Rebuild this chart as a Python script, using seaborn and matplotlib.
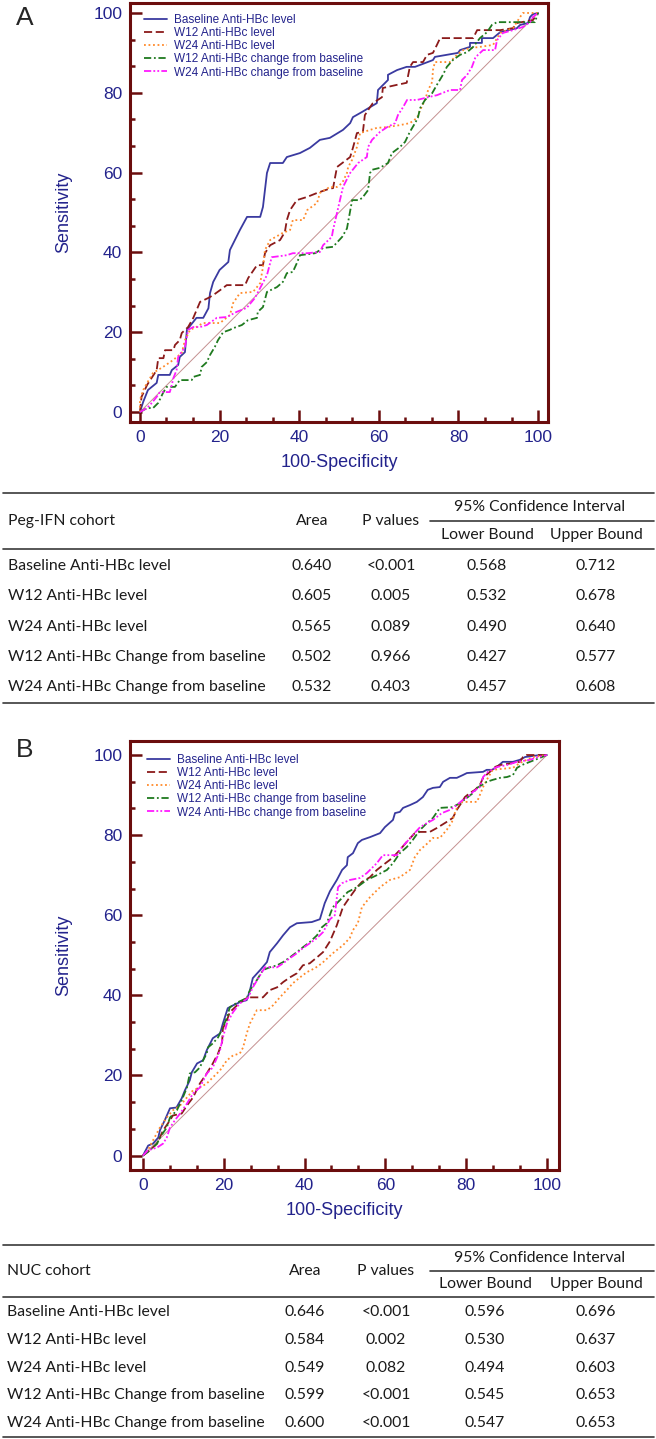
import matplotlib
matplotlib.use("Agg")
import matplotlib.pyplot as plt
import seaborn as sns
from matplotlib.ticker import MultipleLocator

# ---- curve labels ----
curve_names = ["Baseline Anti-HBc level", "W12 Anti-HBc level", "W24 Anti-HBc level",
               "W12 Anti-HBc change from baseline", "W24 Anti-HBc change from baseline"]

# ---- panel A (Peg-IFN) ROC points ----
a_base_x = [0, 0.8, 2, 4.2, 4.6, 7.5, 8, 9.6, 10, 11.3, 11.8, 14.2, 15.9, 17.2, 17.6, 18.4, 20, 22.2, 22.6, 25.1,
            26.9, 30.2, 30.9, 31.9, 32.7, 35.9, 36.9, 40.2, 42.7, 45.2, 47.7, 51, 52.8, 53.5, 55.8, 59.5, 59.8, 62.3,
            62.3, 64.6, 67, 69.1, 73.6, 74.1, 79.9, 80.4, 82.9, 82.9, 85.9, 85.9, 88.7, 90.5, 94.7, 95.5, 97.5, 98,
            98.7, 100]
a_base_y = [0, 2.5, 5.5, 7.3, 9.3, 9.3, 10.5, 11.8, 13.8, 15, 20.6, 23.6, 23.6, 26, 29.8, 32.6, 35.6, 37.6, 40.6, 45.6,
            48.9, 48.9, 51.4, 59.9, 62.4, 62.4, 63.9, 64.9, 66.2, 68.2, 68.7, 70.7, 72.4, 73.9, 75.2, 77.4, 80.7, 83.2,
            84.5, 85.7, 86.5, 86.5, 88.2, 89, 90, 90.7, 91.5, 92.5, 92.5, 93.7, 93.7, 95.2, 96.2, 97, 97.5, 99,
            99.7, 100]

a_w12_x = [0, 0.4, 1.8, 4.2, 4.6, 5.9, 6.3, 8.4, 8.8, 10, 10.5, 12.1, 13.4, 15.1, 17.2, 18.4, 20.9, 21.8, 26.4, 27.2,
           29.4, 30.9, 31.4, 32.7, 35.2, 36.4, 36.9, 37.7, 39.4, 42, 44.5, 47.7, 48.5, 49.5, 52.8, 53.5, 54.5, 56, 56.5,
           57.8, 58.5, 60.8, 61, 64.6, 67, 67.8, 68.6, 71.1, 72.1, 73.6, 74.6, 75.4, 83.7, 84.7, 90.5, 93.7, 94.7, 98.7,
           100]
a_w12_y = [0, 3.8, 6.8, 10.5, 13.5, 13.5, 15.5, 15.5, 16.8, 18, 19.8, 21.3, 23.6, 27.6, 28.6, 29.3, 31.1, 31.8, 31.8,
           33.6, 36.8, 36.8, 39.8, 41.8, 43.1, 45.1, 48.1, 50.6, 53.1, 53.9, 54.9, 56, 56.1, 61.4, 63.9, 66.2, 69.9, 70.2,
           74.4, 76.4, 77.4, 78.9, 81.2, 82, 82.5, 86.5, 87.7, 87.7, 89.5, 90, 92, 93.7, 93.7, 95.7, 95.7, 96.2, 97.5,
           98.2, 100]

a_w24_x = [0, 0, 0.8, 1.8, 3.3, 5.8, 8.3, 10.5, 11.3, 12.6, 14.2, 15.8, 20.1, 22.6, 23.4, 25.1, 28.4, 30.2, 30.9, 31.4,
           32.7, 35.9, 37.7, 38.4, 41, 42, 44.5, 45.2, 47.7, 49.5, 50.8, 52, 52.3, 53.3, 54.5, 55.3, 57.8, 59.5, 62.1,
           65.3, 67.8, 69.6, 70.4, 71.6, 72.4, 73.4, 73.6, 74.1, 77.9, 79.6, 81.2, 82.9, 85.4, 88.7, 90.5, 93.7, 95.5,
           96.2, 100]
a_w24_y = [0, 3, 5.5, 7.3, 9.8, 11.3, 13, 14.8, 18, 20.6, 21.3, 22.3, 22.3, 24.3, 27.3, 29.8, 30.1, 32.3, 36.3, 40.6,
           43.1, 44.9, 45.6, 48.1, 48.1, 50.6, 52.4, 54.9, 56.4, 56.4, 57.4, 59.9, 61.4, 63.2, 66.4, 69.9, 70.7, 71.2,
           71.4, 71.9, 72.4, 73.7, 75.7, 78.2, 80.7, 82.7, 85.7, 87.7, 87.7, 89.5, 90.7, 91.2, 91.5, 92, 95, 96.2, 99,
           100, 100]

a_c12_x = [0, 1.8, 3.3, 4.6, 5.8, 6.7, 8.8, 10, 13, 13.4, 15.1, 15.5, 16.8, 17.6, 18.8, 19.6, 20.9, 22.6, 23.4, 25.6,
           27.1, 29.4, 29.6, 30.9, 31.9, 34.4, 35.9, 36.9, 38.4, 39.4, 40.2, 44, 46, 48.5, 50.8, 52, 53.3, 54.8, 55.8,
           57.3, 57.8, 58.3, 60.3, 62.3, 63.3, 65.3, 66.6, 67.8, 69.1, 69.8, 70.4, 71.6, 73.4, 74.6, 76.1, 77.1, 78.6,
           80.4, 82.2, 83.7, 85.4, 87.2, 88.4, 89.7, 99.2, 100]
a_c12_y = [0, 1, 1, 2.3, 4.8, 6.3, 6.3, 8, 8, 8.8, 9.3, 11.3, 12.5, 14.3, 16.3, 18, 20, 20.6, 21, 21.8,
           23, 23.6, 25.1, 26.3, 30.1, 31.3, 32.6, 34.8, 35.1, 37.3, 39.3, 39.8, 41.1, 41.4, 43.9, 46, 53.1, 53.1, 53.6,
           55.6, 59.9, 60.7, 61.2, 62.4, 64.9, 66.4, 67.7, 70.2, 72.4, 73.7, 76.2, 78.2, 79.9, 82, 84.5, 86.5, 88.2,
           89.5, 90.2, 91.5, 93.7, 95.2, 97, 97.7, 97.7, 100]

a_c24_x = [0, 1.8, 3, 4.2, 5, 7.5, 8, 8.4, 9.2, 9.6, 11.3, 12.1, 13.4, 15.1, 16.8, 19.3, 21.8, 24.3, 26.8, 28.9, 30.2,
           31.9, 33.1, 36.9, 38.4, 42, 45.2, 46, 48.2, 48.5, 49.5, 51, 52.8, 54.8, 57, 57.3, 58.3, 60.3, 62.1, 64.1,
           64.8, 66.1, 67.1, 69.6, 72.4, 74.6, 77.9, 80.4, 80.9, 82.2, 83.4, 84.2, 84.9, 86.2, 89.2, 89.7, 91.2, 93.7,
           96.2, 98, 98.7, 100]
a_c24_y = [0, 1, 2.3, 3.8, 5, 5, 6.8, 8.5, 10.5, 13.8, 16.3, 20.6, 21.3, 21.3, 21.8, 23.6, 23.8, 25.1, 26.1, 28.6, 31.1,
           34.3, 38.8, 39.3, 39.8, 39.8, 40.1, 41.8, 43.9, 45.6, 49.9, 56.4, 59.9, 62.4, 63.9, 66.4, 68.2, 70.2, 71.4,
           72.4, 74.4, 76.4, 78.2, 78.2, 78.9, 79.4, 80.7, 80.7, 83.2, 84.5, 86.5, 88.7, 89.5, 90.7, 90.7, 93.2, 95,
           95.7, 96.5, 97.7, 99, 100]

# ---- panel B (NUC) ROC points ----
b_base_x = [0, 1.3, 2.5, 3.8, 4.2, 5.4, 6.7, 8.3, 9.6, 10.4, 11.6, 12.1, 13.4, 14.9, 15.8, 17.3, 19.1, 19.8, 21, 22.3,
            24, 25.7, 26.5, 27.2, 29, 30.7, 31.4, 33.2, 34.7, 36.4, 38.1, 41.8, 43.8, 45, 46.3, 48, 49.3, 50.5, 50.7,
            52, 53.2, 54.2, 56.2, 58.7, 59.9, 61.9, 62.4, 63.6, 64.4, 66.1, 67.8, 69.3, 70.5, 71.8, 73.5, 74.3, 76,
            77.7, 79.2, 80.2, 84.2, 85.1, 86.4, 87.6, 89.1, 91.6, 93.3, 94.6, 98.3, 100]
b_base_y = [0, 2.5, 3, 4.5, 6.3, 8.8, 11.8, 12, 14.3, 16.3, 18.8, 20.8, 23, 23.8, 26.3, 29.3, 30.5, 33, 36.8, 37.5,
            38.3, 38.8, 41.3, 44.3, 46.3, 48.3, 50.8, 53, 55, 57, 58, 58.3, 59, 63, 66, 68.8, 71.3, 72.5, 74.5,
            75.5, 78, 78.8, 79.5, 80.5, 82, 83.8, 85.5, 85.8, 86.8, 87.5, 88.3, 89.5, 91.3, 91.8, 92, 93.3, 94.3,
            94.3, 95, 95.5, 95.8, 96.3, 96.3, 97, 98.3, 98.3, 98.8, 99.5, 100, 100]

b_w12_x = [0, 1.7, 3.5, 5, 6.7, 7.4, 9.6, 10.9, 12.4, 14.1, 15.8, 17.3, 18.6, 19.6, 19.8, 20.8, 21.5, 23.3, 24.8, 26,
           29.7, 31.4, 33.2, 34.7, 36.4, 38.1, 39.6, 41.3, 43.1, 44.6, 46.3, 48, 49.5, 51.2, 53, 54.2, 56.2, 57.9, 59.4,
           61.1, 62.4, 63.6, 65.3, 67.3, 68.6, 71, 72.8, 75.2, 76.7, 77.7, 79, 79.7, 80.9, 82.2, 83.4, 84.2, 85.9,
           87.1, 88.4, 91.6, 93.3, 94.1, 95, 100]
b_w12_y = [0, 1.3, 3, 6.3, 8.8, 10, 10.5, 12.5, 14.5, 18, 20.5, 23, 25.5, 28.3, 31.8, 33.8, 35.8, 37.5, 38.8, 39.5,
           39.5, 41.3, 42, 43.3, 44.5, 45.5, 47.5, 48, 49.5, 50.8, 53.5, 57.5, 62, 64.5, 67, 68.3, 69.5, 71.3, 72.5,
           73.8, 75, 76.3, 78.3, 80.5, 80.8, 80.8, 81.8, 83.3, 84.3, 86.3, 88.3, 89.5, 90.5, 91.3, 92.5, 94.3, 95.8,
           97, 97.5, 98, 98.3, 99.5, 100, 100]

b_w24_x = [0, 1.2, 2.5, 4.2, 5.9, 7.4, 9.2, 10.9, 12.4, 14.1, 15.8, 17.3, 19.1, 20.8, 22.3, 24, 24.8, 25.7, 26.5, 28.2,
           30.7, 32.2, 33.9, 35.6, 37.1, 38.9, 40.6, 42.6, 44.3, 47, 49.5, 51.2, 52, 53.2, 54.2, 56.2, 58.7, 61.1,
           63.6, 66.1, 67.3, 68.6, 70.5, 71.8, 73.5, 75.2, 76.5, 77.2, 78, 79.2, 82.7, 83.4, 84.2, 85.4, 86.6, 88.4,
           91.6, 93.3, 95, 96.5, 100]
b_w24_y = [0, 1.3, 3.8, 7, 9.5, 11.3, 12.5, 14.5, 16.3, 17, 18, 19.5, 21.3, 23.8, 25, 25.5, 27, 30.5, 33, 36.3,
           36.3, 37.5, 39.5, 41.3, 43, 44.5, 45.8, 46.8, 48, 50.5, 52.5, 54.3, 56.3, 58, 62, 64.5, 67, 68.8,
           69.5, 71.3, 74.5, 76.3, 78, 79.3, 79.3, 81.3, 83.3, 85.5, 87.5, 88.3, 88.3, 90, 92, 94.3, 96.3, 96.5,
           96.8, 98, 98.8, 99.5, 100]

b_c12_x = [0, 1.7, 3.5, 4.2, 5.9, 6.7, 8.4, 9.6, 10.9, 11.6, 12.9, 14.1, 14.9, 15.8, 16.1, 17.3, 18.6, 19.8, 20.8, 21.5,
           23.5, 25.7, 26.5, 28.2, 29.7, 31.4, 33.2, 34.7, 36.4, 38.1, 39.6, 41.3, 43.1, 44.3, 45.5, 47, 48.8, 50.7,
           53, 55.4, 57.9, 60.4, 61.9, 63.6, 65.3, 66.8, 68.6, 70.3, 71.8, 73.5, 76.7, 78.5, 80.2, 81.7, 82.7, 83.9,
           85.1, 86.6, 88.4, 90.1, 91.6, 92.6, 93.8, 95.8, 98.3, 100]
b_c12_y = [0, 1.3, 3, 4.5, 7, 9.5, 11.3, 13.8, 17, 20.5, 20.8, 22, 23.8, 25.5, 27, 28, 29.5, 32, 34.5, 37,
           38.3, 39.3, 41.3, 43.8, 46.3, 47, 47.5, 48.3, 49.5, 50.8, 52, 53.3, 55, 57, 58, 62, 63.8, 65.8,
           67, 68.8, 70, 71.3, 73, 75.5, 77, 78.8, 81.3, 83, 84.3, 86.8, 87, 88, 89.3, 90.5, 91.8, 92.5,
           93.3, 93.8, 94.3, 94.5, 95, 96.8, 97.5, 98.3, 99.3, 100]

b_c24_x = [0, 1.2, 3.5, 5, 5.9, 6.7, 7.9, 9.2, 10.9, 12.4, 14.1, 15.8, 17.3, 19.1, 19.8, 20.8, 22.3, 24, 26, 27.2, 29,
           30.2, 33.2, 34.7, 36.4, 38.1, 39.6, 41.3, 43.1, 44.6, 46.3, 47.5, 48.3, 49.3, 51.2, 53.7, 55.4, 57.9, 59.4,
           62.9, 64.1, 65.3, 66.8, 68.6, 70.3, 71.8, 74, 76, 77.7, 79.2, 80.4, 81.7, 83.4, 84.2, 85.4, 87.6, 90.1,
           92.6, 95.8, 97.8, 100]
b_c24_y = [0, 1.3, 2, 3, 4.5, 7, 8.8, 10.5, 13, 15.5, 17, 20.5, 22, 26.3, 29.5, 33, 35.8, 38, 39.3, 42, 45,
           47, 47, 48, 49.3, 50.5, 51.8, 53, 54.3, 55.8, 59, 60, 67, 68, 68.8, 69.3, 70.5, 73, 75,
           75, 77, 78.3, 80, 82, 83, 83.8, 85.5, 86.3, 87.5, 88.8, 89.5, 90.8, 92, 94.5, 95.8, 97, 97.5,
           98.3, 98.8, 99.5, 100]

# ---- table values ----
row_names = ["Baseline Anti-HBc level", "W12 Anti-HBc level", "W24 Anti-HBc level",
             "W12 Anti-HBc Change from baseline", "W24 Anti-HBc Change from baseline"]
peg_area = ["0.640", "0.605", "0.565", "0.502", "0.532"]
peg_p = ["<0.001", "0.005", "0.089", "0.966", "0.403"]
peg_lower = ["0.568", "0.532", "0.490", "0.427", "0.457"]
peg_upper = ["0.712", "0.678", "0.640", "0.577", "0.608"]
nuc_area = ["0.646", "0.584", "0.549", "0.599", "0.600"]
nuc_p = ["<0.001", "0.002", "0.082", "<0.001", "<0.001"]
nuc_lower = ["0.596", "0.530", "0.494", "0.545", "0.547"]
nuc_upper = ["0.696", "0.637", "0.603", "0.653", "0.653"]

# ---- styling ----
sns.set_style("white")
plt.rcParams['font.family'] = ['Liberation Sans', 'DejaVu Sans']

NAVY = "#23238c"
FRAME = "#6b0d0d"
colors = ["#3a3aa0", "#8b1a1a", "#ff8a2a", "#1f7a1f", "#ff1aff"]
styles = ["-", (0, (4.5, 2)), (0, (1, 1.5)), (0, (4, 1.5, 1, 1.5)), (0, (4, 1.2, 1, 1.2, 1, 1.2))]

W, H = 656, 1439
fig = plt.figure(figsize=(W / 100, H / 100), dpi=100)


def px_axes(left, top, right, bottom):
    return fig.add_axes([left / W, 1 - bottom / H, (right - left) / W, (bottom - top) / H])


def draw_roc(ax, xs_list, ys_list, lim_x, lim_y, anchor):
    sns.lineplot(x=[0, 100], y=[0, 100], ax=ax, color="#c49090", lw=0.7)
    for name, xs, ys, c, ls in zip(curve_names, xs_list, ys_list, colors, styles):
        sns.lineplot(x=xs, y=ys, ax=ax, sort=False, estimator=None, color=c,
                     linestyle=ls, lw=1.3, label=name)
    ax.set_xlim(*lim_x)
    ax.set_ylim(*lim_y)
    for a in (ax.xaxis, ax.yaxis):
        a.set_major_locator(MultipleLocator(20))
        a.set_minor_locator(MultipleLocator(20 / 3))
    ax.tick_params(which='both', direction='in', color=FRAME, width=1.8,
                   labelcolor=NAVY, labelsize=12.5, pad=5.5,
                   bottom=True, left=True, top=False, right=False)
    ax.tick_params(which='major', length=8.5)
    ax.tick_params(which='minor', length=3.8)
    for sp in ax.spines.values():
        sp.set_color(FRAME)
        sp.set_linewidth(2.2)
    ax.set_xlabel("100-Specificity", color=NAVY, fontsize=13, labelpad=7)
    ax.set_ylabel("Sensitivity", color=NAVY, fontsize=13, labelpad=15)
    ax.legend(loc="upper left", bbox_to_anchor=anchor, frameon=False, fontsize=8.5,
              labelcolor=NAVY, borderpad=0, borderaxespad=0, labelspacing=0.1,
              handlelength=1.9, handletextpad=0.6)


axA = px_axes(130, 3, 548, 422)
draw_roc(axA, [a_base_x, a_w12_x, a_w24_x, a_c12_x, a_c24_x],
         [a_base_y, a_w12_y, a_w24_y, a_c12_y, a_c24_y],
         (-2.5, 102.5), (-2.5, 102.5), (0.034, 0.974))

axB = px_axes(130, 741, 559, 1170)
draw_roc(axB, [b_base_x, b_w12_x, b_w24_x, b_c12_x, b_c24_x],
         [b_base_y, b_w12_y, b_w24_y, b_c12_y, b_c24_y],
         (-3.2, 103.0), (-3.6, 103.5), (0.04, 0.97))

fig.text(25 / W, 1 - 18 / H, "A", fontsize=19, ha="center", va="center")
fig.text(25 / W, 1 - 750 / H, "B", fontsize=19, ha="center", va="center")

# ---- tables drawn on a pixel-space overlay ----
axT = fig.add_axes([0, 0, 1, 1], zorder=-1)
axT.set_xlim(0, W)
axT.set_ylim(H, 0)
axT.axis("off")

TFONT = ['Lato', 'DejaVu Sans']
TCOL = "#1a1a1a"


def draw_table(title, area, pvals, lower, upper, top, head_rule, rows_y, bottom, col_x):
    x_name, x_area, x_p, x_low, x_up = col_x
    rule = dict(color="#3a3a3a", lw=1.2)
    axT.plot([3, 654], [top, top], **rule)
    axT.plot([3, 654], [head_rule, head_rule], **rule)
    axT.plot([3, 654], [bottom, bottom], **rule)
    mid = (top + head_rule) / 2
    axT.plot([430, 654], [mid, mid], **rule)
    kw = dict(family=TFONT, fontsize=11.3, color=TCOL, va="center")
    axT.text(x_name, mid, title, ha="left", **kw)
    axT.text(x_area, mid, "Area", ha="center", **kw)
    axT.text(x_p, mid, "P values", ha="center", **kw)
    axT.text(540, (top + mid) / 2, "95% Confidence Interval", ha="center", **kw)
    axT.text(x_low, (mid + head_rule) / 2, "Lower Bound", ha="center", **kw)
    axT.text(x_up, (mid + head_rule) / 2, "Upper Bound", ha="center", **kw)
    for i, y in enumerate(rows_y):
        axT.text(x_name, y, row_names[i], ha="left", **kw)
        axT.text(x_area, y, area[i], ha="center", **kw)
        axT.text(x_p, y, pvals[i], ha="center", **kw)
        axT.text(x_low, y, lower[i], ha="center", **kw)
        axT.text(x_up, y, upper[i], ha="center", **kw)


draw_table("Peg-IFN cohort", peg_area, peg_p, peg_lower, peg_upper,
           493, 549, [566, 596, 627, 657, 687], 703, (8, 312, 391, 487, 596))
draw_table("NUC cohort", nuc_area, nuc_p, nuc_lower, nuc_upper,
           1245, 1297, [1312, 1340, 1368, 1395, 1423], 1437, (7, 305, 386, 485, 596))

fig.savefig("out.png", dpi=100)
